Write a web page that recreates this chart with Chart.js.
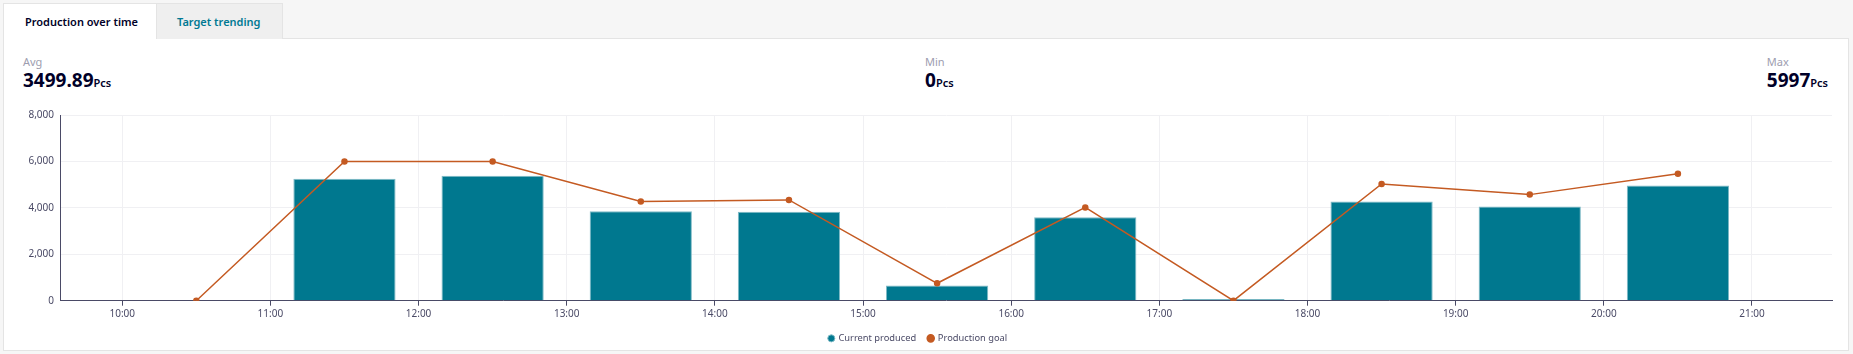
<!DOCTYPE html>
<html>
<head>
<meta charset="utf-8">
<script src="https://cdn.jsdelivr.net/npm/chart.js@4.4.1/dist/chart.umd.min.js"></script>
<style>
  html, body { margin: 0; padding: 0; }
  body {
    width: 1853px; height: 354px; background: #f6f6f6; overflow: hidden;
    font-family: "Noto Sans", "Open Sans", sans-serif; color: #000028; position: relative;
  }
  .tabs { position: absolute; left: 3px; top: 3px; height: 36px; display: flex; }
  .tab { height: 36px; line-height: 35px; font-size: 11px; font-weight: 600; box-sizing: border-box; white-space: nowrap; overflow: hidden; }
  .tab.active { background: #fff; color: #000028; width: 154px; padding-left: 21px; border: 1px solid #e4e4e4; border-bottom: none; }
  .tab.inactive { background: #efefef; color: #007993; width: 126px; padding-left: 20px; border: 1px solid #e4e4e4; border-left: none; border-bottom: none; }
  .card { position: absolute; left: 3px; top: 38px; width: 1846px; height: 313px; background: #fff; border: 1px solid #e4e4e4; box-sizing: border-box; }
  .stat { position: absolute; top: 55px; }
  .stat .lbl { font-size: 11px; color: #9d9daf; line-height: 14px; }
  .stat .val { font-size: 19px; font-weight: 700; line-height: 22px; }
  .stat .val span { font-size: 11px; font-weight: 600; }
  #box { position: absolute; left: 4px; top: 94px; width: 1843px; height: 259px; }
</style>
</head>
<body>
<div class="card"></div>
<div class="tabs">
  <div class="tab active">Production over time</div>
  <div class="tab inactive">Target trending</div>
</div>
<div class="stat" style="left:23px"><div class="lbl">Avg</div><div class="val">3499.89<span>Pcs</span></div></div>
<div class="stat" style="left:925px"><div class="lbl">Min</div><div class="val">0<span>Pcs</span></div></div>
<div class="stat" style="right:25px; text-align:left"><div class="lbl">Max</div><div class="val">5997<span>Pcs</span></div></div>
<div id="box"><canvas id="chart"></canvas></div>
<script>
// hours (x = 10.5 means 10:30)
const hours = [10.5, 11.5, 12.5, 13.5, 14.5, 15.5, 16.5, 17.5, 18.5, 19.5, 20.5];
const produced = [null, 5250, 5380, 3850, 3830, 650, 3600, 70, 4270, 4060, 4960];
const goal = [0, 6000, 6000, 4270, 4340, 750, 4020, 0, 5030, 4570, 5470];
const yTicks = [0, 2000, 4000, 6000, 8000];

const tealColor = '#00788f';
const goalColor = '#c45a22';
const inkColor = '#4a4a66';

new Chart(document.getElementById('chart'), {
  data: {
    datasets: [
      {
        type: 'line',
        label: 'Production goal',
        data: hours.map((h, i) => ({ x: h, y: goal[i] })),
        borderColor: goalColor,
        backgroundColor: goalColor,
        borderWidth: 1.5,
        pointRadius: 2.5,
        pointHoverRadius: 3,
        order: 0
      },
      {
        type: 'bar',
        label: 'Current produced',
        data: hours.map((h, i) => ({ x: h, y: produced[i] })),
        backgroundColor: tealColor,
        borderColor: '#7fbac6',
        borderWidth: 1,
        barPercentage: 0.69,
        categoryPercentage: 1,
        order: 1
      }
    ]
  },
  options: {
    responsive: true,
    maintainAspectRatio: false,
    animation: false,
    layout: { padding: { top: 21, right: 15, left: 0, bottom: 0 } },
    plugins: {
      legend: {
        position: 'bottom',
        reverse: true,
        labels: {
          usePointStyle: true,
          pointStyle: 'circle',
          boxWidth: 5,
          boxHeight: 5,
          padding: 12,
          color: inkColor,
          font: { family: '"Noto Sans", sans-serif', size: 9.3 }
        }
      },
      tooltip: { enabled: false }
    },
    scales: {
      x: {
        type: 'linear',
        min: 9.58,
        max: 21.54,
        offset: false,
        grid: { color: '#f0f0f3', tickColor: inkColor, tickLength: 5, offset: false },
        border: { color: inkColor, width: 1 },
        ticks: {
          stepSize: 1,
          includeBounds: false,
          color: inkColor,
          padding: 2,
          maxRotation: 0,
          font: { family: '"Noto Sans", sans-serif', size: 10 },
          callback: v => v + ':00'
        }
      },
      y: {
        min: 0,
        max: 8000,
        afterBuildTicks: s => { s.ticks = yTicks.map(v => ({ value: v })); },
        afterFit: s => { s.width = 56; },
        grid: { color: '#f0f0f3', drawTicks: false },
        border: { color: inkColor, width: 1 },
        ticks: {
          color: inkColor,
          padding: 6,
          font: { family: '"Noto Sans", sans-serif', size: 10 },
          callback: v => v.toLocaleString('en-US')
        }
      }
    }
  }
});
</script>
</body>
</html>
